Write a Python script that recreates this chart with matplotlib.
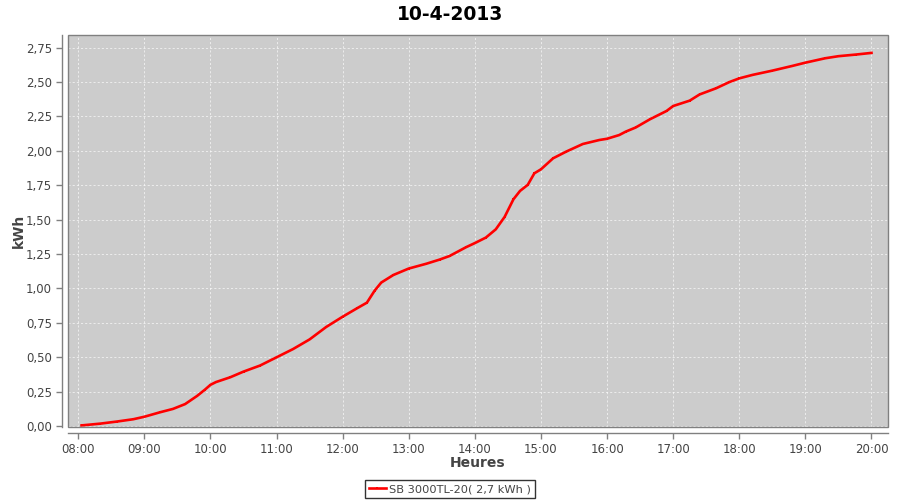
import matplotlib
matplotlib.use("Agg")
import matplotlib.pyplot as plt
from matplotlib import ticker
from matplotlib.patches import Rectangle

title = "10-4-2013"
series_label = "SB 3000TL-20( 2,7 kWh )"

times = ["08:03", "08:20", "08:35", "08:50", "09:00", "09:14", "09:26", "09:37",
         "09:48", "09:55", "10:00", "10:05", "10:18", "10:30", "10:45", "11:00",
         "11:15", "11:30", "11:45", "12:00", "12:13", "12:22", "12:29", "12:35",
         "12:46", "13:00", "13:16", "13:28", "13:37", "13:52", "14:00", "14:10",
         "14:19", "14:27", "14:35", "14:41", "14:48", "14:54", "15:00", "15:11",
         "15:23", "15:38", "15:53", "16:00", "16:11", "16:17", "16:26", "16:39",
         "16:54", "17:00", "17:15", "17:24", "17:39", "17:51", "18:00", "18:12",
         "18:30", "18:48", "19:00", "19:18", "19:30", "19:46", "20:00"]
kwh = [0.005, 0.018, 0.033, 0.05, 0.068, 0.10, 0.125, 0.16,
       0.22, 0.265, 0.30, 0.32, 0.355, 0.396, 0.44, 0.50,
       0.56, 0.63, 0.72, 0.795, 0.856, 0.897, 0.984, 1.043,
       1.098, 1.145, 1.18, 1.21, 1.236, 1.30, 1.33, 1.37,
       1.43, 1.52, 1.648, 1.709, 1.753, 1.837, 1.866, 1.946,
       1.995, 2.05, 2.079, 2.088, 2.115, 2.14, 2.17, 2.23,
       2.29, 2.326, 2.365, 2.41, 2.455, 2.50, 2.527, 2.552,
       2.583, 2.617, 2.641, 2.673, 2.688, 2.70, 2.712]

hour_ticks = list(range(8, 21))
kwh_ticks = [0, 0.25, 0.5, 0.75, 1.0, 1.25, 1.5, 1.75, 2.0, 2.25, 2.5, 2.75]


def to_hours(s):
    h, m = s.split(":")
    return int(h) + int(m) / 60


hours = [to_hours(t) for t in times]

fig = plt.figure(figsize=(9, 5), dpi=100)
ax = fig.add_axes([68 / 900, 1 - 427 / 500, 820 / 900, 392 / 500])
ax.set_facecolor("#cccccc")

ax.plot(hours, kwh, color="#ff0000", lw=1.9, marker="s", markersize=1.6,
        markeredgewidth=0, label=series_label, zorder=3)

ax.set_xlim(7.845, 20.25)
ax.set_ylim(-0.0065, 2.842)
ax.set_xticks(hour_ticks)
ax.set_yticks(kwh_ticks)
ax.xaxis.set_major_formatter(ticker.FuncFormatter(lambda v, p: f"{int(round(v)):02d}:00"))
ax.yaxis.set_major_formatter(ticker.FuncFormatter(lambda v, p: f"{v:.2f}".replace(".", ",")))

ax.grid(True, color="white", alpha=0.75, linestyle=(0, (2.5, 2.5)), linewidth=0.6)
ax.set_axisbelow(True)

gray = "#808080"
for side in ["top", "right"]:
    ax.spines[side].set_visible(False)
for side in ["left", "bottom"]:
    ax.spines[side].set_position(("outward", 4))
    ax.spines[side].set_color(gray)
    ax.spines[side].set_linewidth(1)
ax.add_patch(Rectangle((0, 0), 1, 1, transform=ax.transAxes, fill=False,
                       edgecolor=gray, linewidth=1, zorder=4, clip_on=False))

ax.tick_params(axis="both", colors=gray, labelcolor="#444444", labelsize=8.5,
               length=4, width=1, direction="out")

ax.set_xlabel("Heures", fontsize=10, fontweight="bold", color="#444444", labelpad=0)
ax.set_ylabel("kWh", fontsize=10, fontweight="bold", color="#444444", labelpad=0)
fig.suptitle(title, x=0.5, y=0.99, fontsize=13.5, fontweight="bold", color="black")

leg = fig.legend(loc="lower center", bbox_to_anchor=(0.5, 0.004), fontsize=8.2,
                 frameon=True, fancybox=False, handlelength=1.5, handletextpad=0.3,
                 borderpad=0.35, borderaxespad=0, labelcolor="#444444")
leg.get_frame().set_edgecolor("black")
leg.get_frame().set_linewidth(1)

fig.savefig("out.png", dpi=100)
